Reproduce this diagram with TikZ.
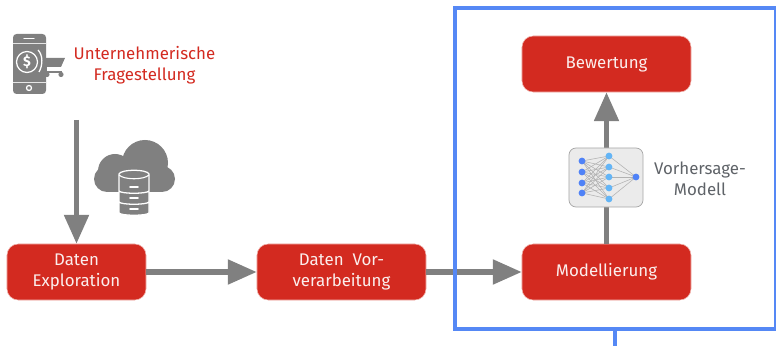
\documentclass[tikz,border=0pt]{standalone}
\usepackage{fontspec}
\usepackage{xcolor}
\setmainfont{Fira Sans}
\usetikzlibrary{arrows.meta}
\definecolor{boxred}{HTML}{D32A20}
\definecolor{edgepink}{HTML}{F0B4AE}
\definecolor{arrowgray}{HTML}{808080}
\definecolor{frameblue}{HTML}{5588F5}
\definecolor{labelgray}{HTML}{5F6368}
\definecolor{dotblue}{HTML}{4F82F7}
\definecolor{dotsky}{HTML}{64B5F6}
\tikzset{
  redbox/.style={draw=edgepink, line width=0.4pt, fill=boxred, text=white!92!boxred, rounded corners=8pt,
    minimum height=1.4cm, align=center, font=\fontsize{12}{15}\selectfont, inner sep=0pt},
  flow/.style={draw=arrowgray, line width=3.6pt, -{Triangle[length=0.72cm,width=0.6cm]}},
  iconpart/.style={fill=arrowgray, draw=none},
  dbdisk/.style={fill=arrowgray, draw=white, line width=0.9pt},
  nnwire/.style={draw=black!30, line width=0.4pt},
  nndot/.style={circle, inner sep=0pt, minimum size=0.17cm},
}
\begin{document}
\begin{tikzpicture}[x=0.025cm,y=-0.025cm]
    \useasboundingbox (0,0) rectangle (776,346);
    % Boxes
    \node[redbox, minimum width=3.475cm] (explore) at (76.5,272) {Daten\\Exploration};
    \node[redbox, minimum width=4.225cm] (prepare) at (341.5,272) {Daten~ Vor-\\verarbeitung};
    \node[redbox, minimum width=4.225cm] (modelling) at (606.5,272) {Modellierung};
    \node[redbox, minimum width=4.225cm] (rating) at (606.5,64) {Bewertung};
    \node[text=boxred, align=center, font=\fontsize{12}{15}\selectfont] (question) at (144.5,65) {Unternehmerische\\Fragestellung};
    \node[text=labelgray, align=center, font=\fontsize{12}{15}\selectfont] (modellabel) at (700,179) {Vorhersage-\\Modell};

    % Arrows
    \coordinate (questionend) at (76.5,120);
    \draw[flow] (questionend) -- (explore);
    \draw[flow] (explore) -- (prepare);
    \draw[flow] (prepare) -- (modelling);
    \draw[flow] (modelling) -- (rating);

    % Frame
    \node[draw=frameblue, line width=2.2pt, minimum width=8cm, minimum height=8.025cm, inner sep=0pt] (frame) at (615,168.5) {};
    \coordinate (stemend) at (615,346);
    \draw[frameblue, line width=2.2pt] (frame) -- (stemend);

    % Network
    \node[draw=black!35, fill=black!8, rounded corners=5pt, line width=0.5pt, minimum width=1.85cm, minimum height=1.475cm, inner sep=0pt] (netbox) at (606,177.5) {};
    \foreach \a in {161,172,183,193}
      \foreach \b in {156,167,177,188,199}
        \draw[nnwire] (582,\a) -- (609,\b);
    \foreach \b in {156,167,177,188,199}
      \draw[nnwire] (609,\b) -- (636,177);
    \foreach \n/\ypos in {1/161,2/172,3/183,4/193}
      \node[nndot, fill=dotblue] (in\n) at (582,\ypos) {};
    \foreach \n/\ypos in {1/156,2/167,3/177,4/188,5/199}
      \node[nndot, fill=dotsky] (mid\n) at (609,\ypos) {};
    \node[nndot, fill=dotblue] (out) at (636,177) {};

    % Cart
    \fill[iconpart] (46,58) -- (65,58) -- (61,67) -- (46,67) -- cycle;
    \draw[arrowgray, line width=0.9pt] (46,60) -- (46,72) -- (62,72);
    \fill[arrowgray] (47,74.5) circle (2.6) (61,74.5) circle (2.6);

    % Phone
    \fill[iconpart, rounded corners=2.5pt] (13,34) rectangle (46,94);
    \draw[white, line width=1pt, line cap=round] (24,38.5) -- (34,38.5);
    \draw[white!80!arrowgray, line width=0.6pt] (13,43) -- (46,43) (13,82) -- (46,82);
    \draw[white, line width=0.9pt] (27,62) circle (10.5);
    \draw[white, line width=0.9pt] (38,50) .. controls (43,55) and (43,65) .. (39,72);
    \node[text=white, font=\fontsize{10}{10}\selectfont\bfseries, inner sep=0pt] (dollar) at (27,62) {\$};
    \draw[white, line width=0.9pt] (29,88) circle (2.5);

    % Cloud
    \fill[iconpart] (145,163) circle (23) (115,171) circle (17) (107,179) circle (13) (162,179) circle (13);
    \fill[iconpart] (107,172) rectangle (162,192);
    % Database
    \foreach \ytop/\ybot/\yslot in {201/214/209, 190/203/198, 172/192/187} {
      \path[dbdisk] (119,\ytop+2) .. controls (121,\ytop-3) and (147,\ytop-3) .. (149,\ytop+2)
        -- (149,\ybot-1) .. controls (147,\ybot+2) and (121,\ybot+2) .. (119,\ybot-1) -- cycle;
      \draw[white, line width=1.3pt, line cap=round] (130,\yslot) -- (138,\yslot);
    }
    \draw[white, line width=0.8pt] (119,175) .. controls (124,180) and (144,180) .. (149,175);
\end{tikzpicture}
\end{document}
